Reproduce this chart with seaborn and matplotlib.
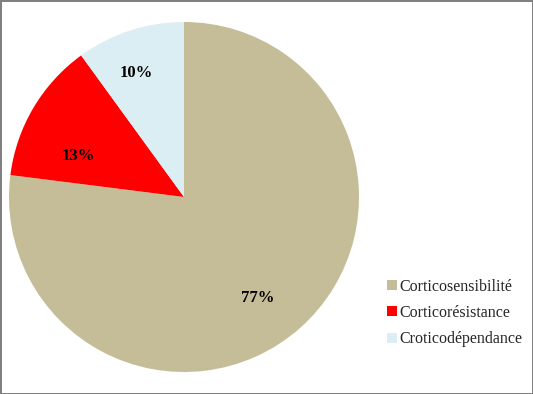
import matplotlib
matplotlib.use("Agg")
import matplotlib.pyplot as plt
import seaborn as sns

# ----------------- Data -----------------
categories = ['Corticosensibilité', 'Corticorésistance', 'Croticodépendance']
values = [77, 13, 10]
colors = ['#C4BD97', '#FF0000', '#DBEEF3']

# ----------------- Style -----------------
sns.set_style('white')
plt.rcParams['font.family'] = ['Liberation Serif', 'DejaVu Serif']

fig = plt.figure(figsize=(5.33, 3.94), dpi=100, edgecolor='#808080', linewidth=2)
ax = fig.add_axes([9 / 533, 22 / 394, 350 / 533, 350 / 394])

wedges, texts, autotexts = ax.pie(
    values, colors=sns.color_palette(colors), startangle=90, counterclock=False,
    autopct='%d%%', pctdistance=0.7, wedgeprops={'linewidth': 0},
    textprops={'fontsize': 12, 'fontweight': 'bold', 'color': 'black'})
ax.set_xlim(-1, 1)
ax.set_ylim(-1, 1)
ax.set_aspect('equal')

# label placement as in the original (Excel-style offsets)
label_pos = [(0.423, -0.577), (-0.606, 0.234), (-0.274, 0.709)]
for t, p in zip(autotexts, label_pos):
    t.set_position(p)

ax.legend(wedges, categories, loc='center left',
          bbox_to_anchor=(373 / 533, 1 - 313 / 394), bbox_transform=fig.transFigure,
          frameon=False, fontsize=11.5,
          handlelength=0.6, handleheight=0.6, handletextpad=0.15, labelspacing=0.65)

fig.savefig('out.png', dpi=100, edgecolor=fig.get_edgecolor())
